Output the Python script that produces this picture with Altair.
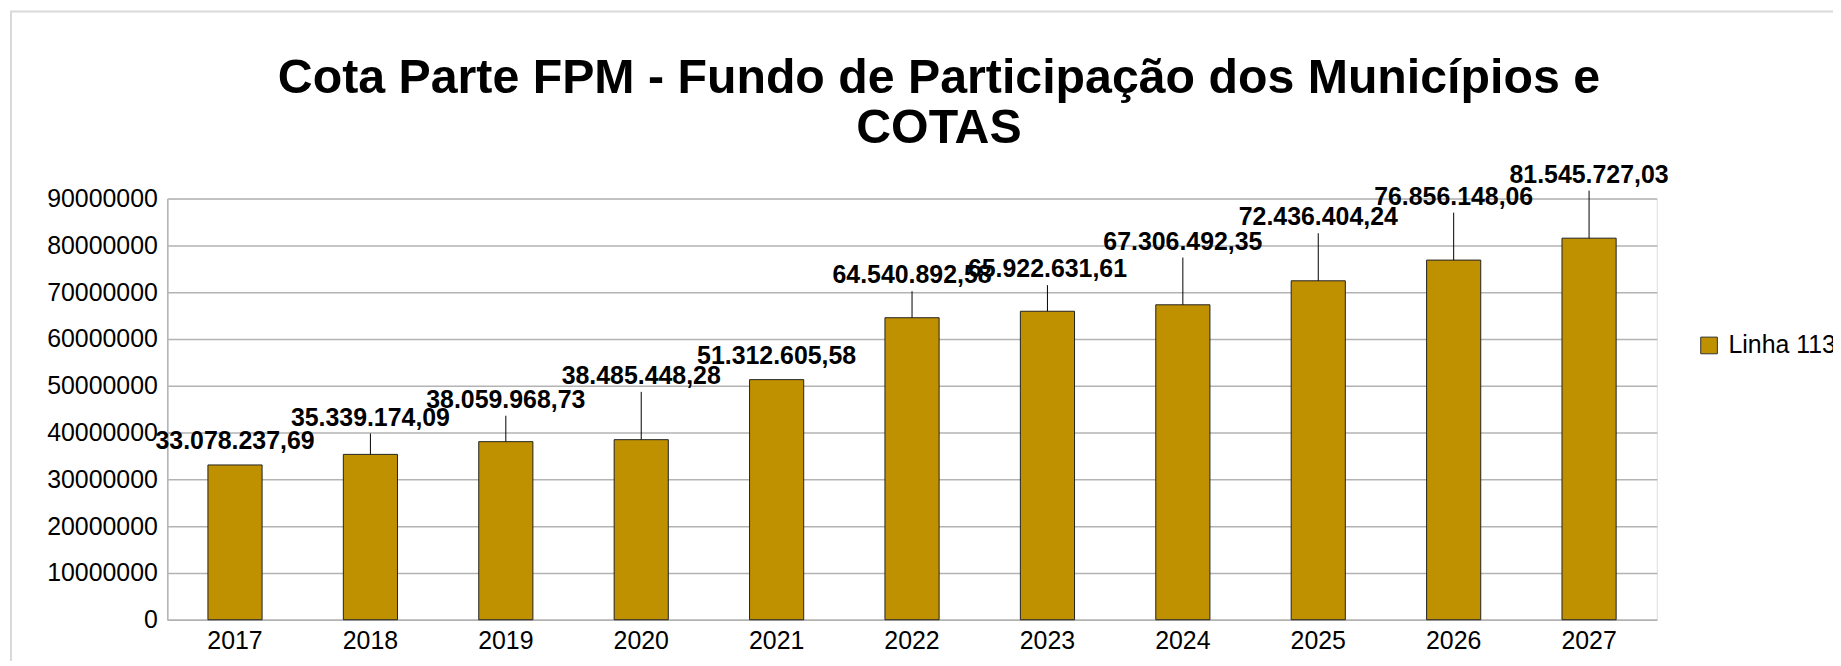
import altair as alt
import pandas as pd

years = ["2017", "2018", "2019", "2020", "2021", "2022", "2023", "2024", "2025", "2026", "2027"]
values = [33078237.69, 35339174.09, 38059968.73, 38485448.28, 51312605.58, 64540892.58,
          65922631.61, 67306492.35, 72436404.24, 76856148.06, 81545727.03]
value_labels = ["33.078.237,69", "35.339.174,09", "38.059.968,73", "38.485.448,28", "51.312.605,58",
                "64.540.892,58", "65.922.631,61", "67.306.492,35", "72.436.404,24", "76.856.148,06",
                "81.545.727,03"]
# where each data label sits (in axis units), as placed in the picture
label_at = [36.4e6, 41.5e6, 45.3e6, 50.4e6, 54.7e6, 71.9e6, 73.2e6, 79.1e6, 84.3e6, 88.7e6, 93.4e6]
series_name = "Linha 113"
y_ticks = [0, 10000000, 20000000, 30000000, 40000000, 50000000, 60000000, 70000000, 80000000, 90000000]

df = pd.DataFrame({
    "year": years,
    "value": values,
    "label": value_labels,
    "label_at": label_at,
    "series": [series_name] * len(years),
})
df["leader_top"] = df["label_at"] - 1.7e6

FONT = "Liberation Sans"
GOLD = "#BF9000"

x_enc = alt.X("year:N", title=None, sort=years,
              scale=alt.Scale(paddingInner=0.6, paddingOuter=0.3),
              axis=alt.Axis(labelAngle=0, ticks=False, labelFontSize=25, labelFont=FONT,
                            labelColor="#000000", labelPadding=9, domainColor="#b3b3b3",
                            domainWidth=1.5))
y_scale = alt.Scale(domain=[0, 90000000], nice=False)

base = alt.Chart(df)

bars = base.mark_bar(stroke="#222222", strokeWidth=1).encode(
    x=x_enc,
    y=alt.Y("value:Q", title=None, scale=y_scale,
            axis=alt.Axis(values=y_ticks, format="d", ticks=False, labelFontSize=25, labelFont=FONT,
                          labelColor="#000000", labelPadding=10, gridColor="#b3b3b3", gridWidth=1.5,
                          domainColor="#b3b3b3", domainWidth=1.5)),
    color=alt.Color("series:N", scale=alt.Scale(range=[GOLD]),
                    legend=alt.Legend(title=None, orient="none", legendX=1536, legendY=135,
                                      symbolType="square", symbolSize=280, symbolStrokeColor="#333333",
                                      symbolStrokeWidth=1, labelFontSize=25, labelFont=FONT,
                                      labelColor="#000000", labelOffset=7)),
)

leaders = base.mark_rule(color="#000000", strokeWidth=1).encode(
    x=alt.X("year:N", sort=years),
    y=alt.Y("value:Q", scale=y_scale),
    y2="leader_top:Q",
).transform_filter("datum.label_at - datum.value > 4500000")

texts = base.mark_text(fontSize=25, fontWeight="bold", font=FONT, color="#000000",
                       baseline="alphabetic", align="center").encode(
    x=alt.X("year:N", sort=years),
    y=alt.Y("label_at:Q", scale=y_scale),
    text="label:N",
)

frame = alt.Chart(pd.DataFrame({"a": [0]})).mark_rect(
    fill=None, stroke="#d9d9d9", strokeWidth=2
).encode(x=alt.value(-157), y=alt.value(-188), x2=alt.value(3000), y2=alt.value(3000))

chart = alt.layer(frame, bars, leaders, texts).properties(
    width=1496,
    height=423,
    padding={"left": 160, "top": 190, "right": 177, "bottom": 40},
    autosize=alt.AutoSizeParams(type="none"),
    title=alt.TitleParams(
        text=["Cota Parte FPM - Fundo de Participação dos Municípios e", "COTAS"],
        fontSize=48.5, font=FONT, fontWeight="bold", color="#000000",
        anchor="middle", dx=27, lineHeight=51, offset=-144,
    ),
).configure_view(stroke=None).configure(background="#ffffff")

chart.save("out.html", embed_options={"renderer": "svg", "actions": False})
